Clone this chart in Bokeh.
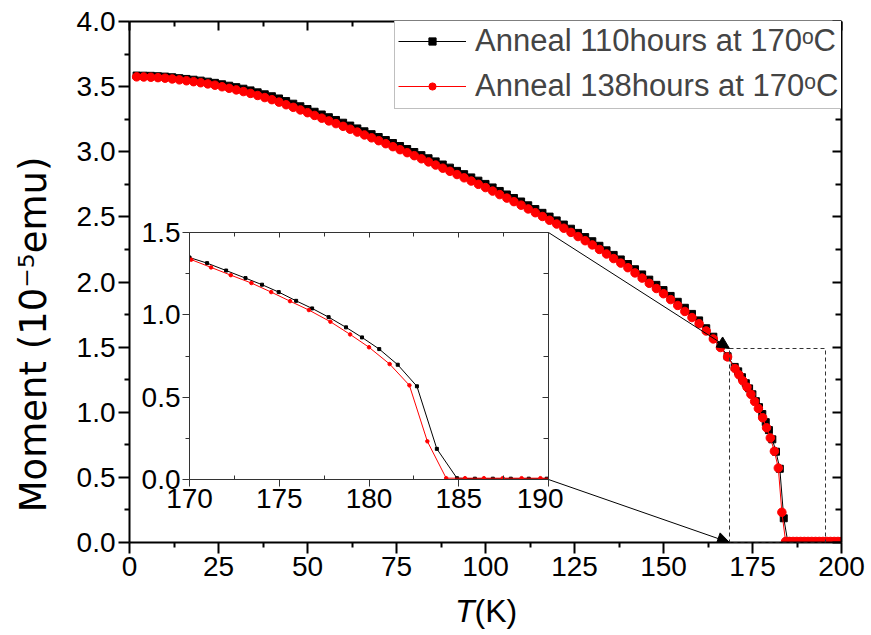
import numpy as np
from bokeh.plotting import figure
from bokeh.models import (Range1d, LinearAxis, FixedTicker, PrintfTickFormatter,
                          Legend, LegendItem, BoxAnnotation, Arrow, NormalHead, Label, GridBox)
from bokeh.embed import file_html
from bokeh.resources import INLINE

# ---------------- data ----------------
T_low = [2, 4, 6, 8, 10, 12, 14, 16, 18, 20, 22, 24, 26, 28, 30, 32, 34, 36, 38, 40,
         42, 44, 46, 48, 50, 52, 54, 56, 58, 60, 62, 64, 66, 68, 70, 72, 74, 76, 78, 80,
         82, 84, 86, 88, 90, 92, 94, 96, 98, 100, 102, 104, 106, 108, 110, 112, 114, 116, 118, 120,
         122, 124, 126, 128, 130, 132, 134, 136, 138, 140, 142, 144, 146, 148, 150, 152, 154, 156, 158, 160,
         162, 164, 166, 168]
M_black_low = [3.585, 3.584, 3.583, 3.580, 3.577, 3.572, 3.565, 3.559, 3.553, 3.546,
               3.538, 3.529, 3.518, 3.507, 3.496, 3.484, 3.471, 3.456, 3.441, 3.426,
               3.409, 3.389, 3.369, 3.349, 3.328, 3.307, 3.286, 3.265, 3.244, 3.223,
               3.201, 3.179, 3.157, 3.135, 3.113, 3.090, 3.067, 3.044, 3.021, 2.998,
               2.974, 2.950, 2.926, 2.902, 2.878, 2.853, 2.828, 2.803, 2.778, 2.753,
               2.726, 2.699, 2.672, 2.645, 2.618, 2.589, 2.560, 2.531, 2.502, 2.473,
               2.441, 2.409, 2.377, 2.345, 2.313, 2.278, 2.243, 2.208, 2.173, 2.138,
               2.098, 2.058, 2.018, 1.978, 1.938, 1.893, 1.848, 1.802, 1.755, 1.705,
               1.645, 1.580, 1.510, 1.430]
M_red_low = [3.575, 3.574, 3.572, 3.569, 3.565, 3.559, 3.552, 3.545, 3.538, 3.530,
             3.521, 3.511, 3.499, 3.487, 3.475, 3.462, 3.448, 3.432, 3.416, 3.400,
             3.381, 3.361, 3.341, 3.321, 3.300, 3.279, 3.258, 3.237, 3.216, 3.195,
             3.173, 3.151, 3.129, 3.107, 3.085, 3.062, 3.039, 3.016, 2.993, 2.970,
             2.946, 2.922, 2.898, 2.874, 2.850, 2.825, 2.800, 2.775, 2.750, 2.725,
             2.698, 2.671, 2.644, 2.617, 2.590, 2.561, 2.532, 2.503, 2.474, 2.445,
             2.413, 2.381, 2.349, 2.317, 2.285, 2.250, 2.215, 2.180, 2.145, 2.110,
             2.070, 2.030, 1.990, 1.950, 1.910, 1.865, 1.820, 1.774, 1.727, 1.680,
             1.624, 1.563, 1.497, 1.425]

T_black_high = [170.0, 170.98, 172.04, 173.12, 174.04, 174.97, 175.94, 176.83, 177.75, 178.72,
                179.61, 180.57, 181.6, 182.67, 183.78, 184.9, 185.9, 186.9, 187.9, 188.9,
                189.9, 190.9, 191.9, 192.9, 193.9, 194.9, 195.9, 196.9, 197.9, 198.9, 199.9]
M_black_high = [1.348, 1.314, 1.269, 1.223, 1.183, 1.138, 1.085, 1.039, 0.986, 0.924,
                0.863, 0.792, 0.697, 0.566, 0.186, 0.008, 0.005, 0.005, 0.005, 0.005,
                0.005, 0.005, 0.005, 0.005, 0.005, 0.005, 0.005, 0.005, 0.005, 0.005, 0.005]
T_red_high = [170.1, 171.2, 172.3, 173.45, 174.55, 175.6, 176.65, 177.85, 178.95, 180.0,
              181.15, 182.25, 183.25, 184.3, 185.35, 186.4, 187.45, 188.5, 189.55, 190.6,
              191.65, 192.7, 193.75, 194.8, 195.85, 196.9, 197.95, 199.0, 200.0]
M_red_high = [1.335, 1.288, 1.241, 1.193, 1.138, 1.083, 1.029, 0.958, 0.881, 0.803,
              0.701, 0.572, 0.232, 0.008, 0.008, 0.008, 0.008, 0.008, 0.008, 0.008,
              0.008, 0.008, 0.008, 0.008, 0.008, 0.008, 0.008, 0.008, 0.008]

T_black = T_low + T_black_high
M_black = M_black_low + M_black_high
T_red = T_low + T_red_high
M_red = M_red_low + M_red_high

x_ticks = [0, 25, 50, 75, 100, 125, 150, 175, 200]
x_minor = [12.5, 37.5, 62.5, 87.5, 112.5, 137.5, 162.5, 187.5]
y_ticks = [0.0, 0.5, 1.0, 1.5, 2.0, 2.5, 3.0, 3.5, 4.0]
y_minor = [0.25, 0.75, 1.25, 1.75, 2.25, 2.75, 3.25, 3.75]
inset_x_ticks = [170, 175, 180, 185, 190]
inset_x_minor = [172.5, 177.5, 182.5, 187.5]
inset_y_ticks = [0.0, 0.5, 1.0, 1.5]
inset_y_minor = [0.25, 0.75, 1.25]

legend_labels = ["Anneal 110hours at 170\u1d52C", "Anneal 138hours at 170\u1d52C"]
y_label = "Moment (10\u207b\u2075emu)"
x_label_italic = "T"
x_label_rest = "(K)"

# ---------------- layout ----------------
W, H = 871, 635
FL, FR, FT, FB = 129, 841, 21, 542          # main frame in pixels
X0, X1, Y0, Y1 = 0, 200, 0, 4
IL, IR, IT, IB = 189, 548, 232, 479         # inset frame in pixels
FONT = "Liberation Sans"


def px_x(px):
    return X0 + (px - FL) * (X1 - X0) / (FR - FL)


def px_y(py):
    return Y0 + (FB - py) * (Y1 - Y0) / (FB - FT)


def style_axis(ax, ticks, minor, labels, tin, tout, min_in, min_out, font_size="28px",
               standoff=3, color="black", lw=2, fmt=None):
    ax.ticker = FixedTicker(ticks=ticks, minor_ticks=minor)
    ax.axis_line_color = color
    ax.axis_line_width = lw
    ax.major_tick_line_color = color
    ax.minor_tick_line_color = color
    ax.major_tick_line_width = lw
    ax.minor_tick_line_width = lw
    ax.major_tick_in = tin
    ax.major_tick_out = tout
    ax.minor_tick_in = min_in
    ax.minor_tick_out = min_out
    if labels:
        ax.major_label_text_font = FONT
        ax.major_label_text_font_size = font_size
        ax.major_label_text_color = "black"
        ax.major_label_standoff = standoff
    else:
        ax.major_label_text_color = None
        ax.major_label_text_font_size = "1px"
        ax.major_label_standoff = 0
    if fmt is not None:
        ax.formatter = fmt


p = figure(width=W, height=H, x_range=Range1d(X0, X1), y_range=Range1d(Y0, Y1),
           output_backend="svg", toolbar_location=None,
           x_axis_location=None, y_axis_location=None, frame_align=False,
           min_border_left=FL, min_border_right=W - FR, min_border_top=FT, min_border_bottom=H - FB)
p.grid.visible = False
p.outline_line_color = None
p.background_fill_color = "white"
p.border_fill_color = "white"

ax_b = LinearAxis(); style_axis(ax_b, x_ticks, x_minor, True, 0, 11, 0, 5, standoff=3)
ax_l = LinearAxis(); style_axis(ax_l, y_ticks, y_minor, True, 0, 11, 0, 5, standoff=3,
                                fmt=PrintfTickFormatter(format="%.1f"))
ax_t = LinearAxis(); style_axis(ax_t, x_ticks, x_minor, False, 9, 0, 5, 0)
ax_r = LinearAxis(); style_axis(ax_r, y_ticks, y_minor, False, 9, 0, 6, 0)
p.add_layout(ax_b, "below")
p.add_layout(ax_l, "left")
p.add_layout(ax_t, "above")
p.add_layout(ax_r, "right")

lb = p.line(T_black, M_black, line_color="black", line_width=1)
sb = p.scatter(T_black, M_black, marker="square", size=7, fill_color="black", line_color="black")
lr = p.line(T_red, M_red, line_color="red", line_width=1)
sr = p.scatter(T_red, M_red, marker="circle", size=8.5, fill_color="red", line_color="red")

# dashed zoom box and arrows
p.add_layout(BoxAnnotation(left=px_x(729), right=px_x(825), bottom=Y0, top=px_y(348),
                           fill_alpha=0, line_color="#333333", line_alpha=1.0,
                           line_width=1, line_dash="4 3"))
for (sx, sy, ex, ey) in [(IR, IT, 729, 348), (IR, IB, 729, FB)]:
    p.add_layout(Arrow(end=NormalHead(size=12, fill_color="black", line_color="black", line_width=1),
                       x_start=px_x(sx), y_start=px_y(sy), x_end=px_x(ex), y_end=px_y(ey),
                       line_color="black", line_width=1))

legend = Legend(items=[LegendItem(label=legend_labels[0], renderers=[lb, sb]),
                       LegendItem(label=legend_labels[1], renderers=[lr, sr])],
                location=(394 - FL, FB - 109), orientation="vertical",
                padding=3, spacing=7, label_height=38, glyph_height=18, glyph_width=68,
                label_standoff=9, margin=0,
                border_line_color="#808080", border_line_width=1.5,
                background_fill_color="white", background_fill_alpha=1.0,
                label_text_font=FONT, label_text_font_size="31px")
p.add_layout(legend)

# ---------------- inset ----------------
IBL, IBR, IBT, IBB = 60, 15, 30, 50
inset = figure(width=IBL + (IR - IL) + IBR, height=IBT + (IB - IT) + IBB,
               x_range=Range1d(170, 190), y_range=Range1d(0, 1.5),
               output_backend="svg", toolbar_location=None,
               x_axis_location=None, y_axis_location=None, frame_align=False,
               min_border_left=IBL, min_border_right=IBR, min_border_top=IBT, min_border_bottom=IBB)
inset.grid.visible = False
inset.outline_line_color = None
inset.background_fill_color = "white"
inset.border_fill_alpha = 0
inset.margin = (IT - IBT, 0, 0, IL - IBL)

iax_b = LinearAxis(); style_axis(iax_b, inset_x_ticks, inset_x_minor, True, 0, 7, 4, 0,
                                 standoff=2, color="#333333", lw=1)
iax_l = LinearAxis(); style_axis(iax_l, inset_y_ticks, inset_y_minor, True, 0, 7, 0, 4,
                                 standoff=2, color="#333333", lw=1,
                                 fmt=PrintfTickFormatter(format="%.1f"))
iax_t = LinearAxis(); style_axis(iax_t, inset_x_ticks, inset_x_minor, False, 5, 0, 4, 0,
                                 color="#333333", lw=1)
iax_r = LinearAxis(); style_axis(iax_r, inset_y_ticks, inset_y_minor, False, 6, 0, 5, 0,
                                 color="#333333", lw=1)
inset.add_layout(iax_b, "below")
inset.add_layout(iax_l, "left")
inset.add_layout(iax_t, "above")
inset.add_layout(iax_r, "right")

inset.line(T_black, M_black, line_color="black", line_width=1)
inset.scatter(T_black, M_black, marker="square", size=3, fill_color="black", line_color="black")
inset.line(T_red, M_red, line_color="red", line_width=1)
inset.scatter(T_red, M_red, marker="circle", size=3.5, fill_color="red", line_color="red")

# ---------------- axis titles (overlay in pixel space) ----------------
ov = figure(width=W, height=H, x_range=Range1d(0, W), y_range=Range1d(H, 0),
            output_backend="svg", toolbar_location=None,
            x_axis_location=None, y_axis_location=None, frame_align=False,
            min_border_left=0, min_border_right=0, min_border_top=0, min_border_bottom=0)
ov.grid.visible = False
ov.outline_line_color = None
ov.background_fill_alpha = 0
ov.border_fill_alpha = 0

ov.add_layout(Label(x=33, y=334, text=y_label, angle=np.pi / 2,
                    text_align="center", text_baseline="middle",
                    text_font="DejaVu Sans", text_font_size="37px", text_color="black"))
ov.add_layout(Label(x=474, y=610, text=x_label_italic, text_align="right",
                    text_baseline="middle", text_font=FONT, text_font_style="italic",
                    text_font_size="32px", text_color="black"))
ov.add_layout(Label(x=474, y=610, text=x_label_rest, text_align="left",
                    text_baseline="middle", text_font=FONT,
                    text_font_size="32px", text_color="black"))

layout = GridBox(children=[(p, 0, 0), (inset, 0, 0), (ov, 0, 0)])

open("out.html", "w").write(file_html(layout, INLINE))
